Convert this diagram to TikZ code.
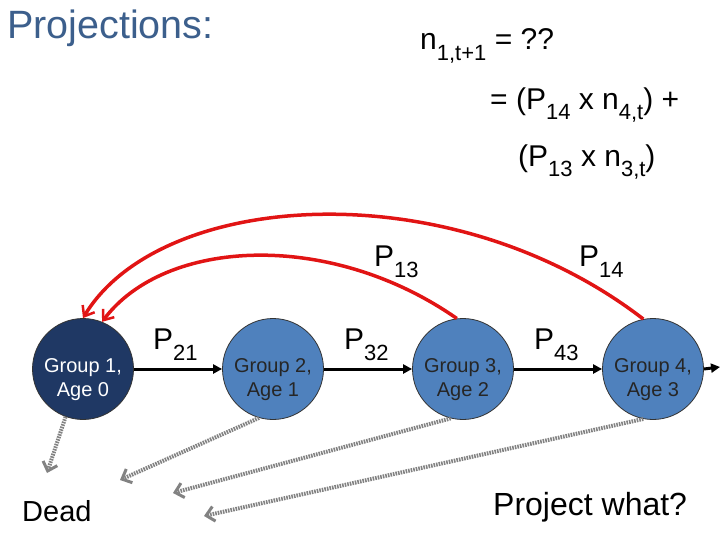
\documentclass[tikz,border=0pt]{standalone}
\usepackage{fontspec}
\setmainfont{Liberation Sans}
\usetikzlibrary{arrows.meta}
\definecolor{navy}{RGB}{31,56,100}
\definecolor{steel}{RGB}{79,129,189}
\definecolor{titleblue}{RGB}{60,95,140}
\definecolor{redarc}{RGB}{225,20,20}
\definecolor{deadgray}{RGB}{130,130,130}
\newcommand{\sbs}[1]{\raisebox{-0.36em}{\fontsize{22}{22}\selectfont #1}}
\tikzset{
  grp/.style={circle, draw=black!80, line width=0.8pt, minimum size=101pt, inner sep=0pt},
  grptxt/.style={font=\fontsize{20}{24}\selectfont, align=center},
  big/.style={font=\fontsize{30}{34}\selectfont, inner sep=0pt, anchor=west},
  flow/.style={line width=3pt, -{Triangle[length=9pt,width=9pt]}},
  fert/.style={redarc, line width=3.5pt, -{Straight Barb[length=9pt,width=14pt,line width=2.5pt]}},
  death/.style={deadgray, line width=4pt, dash pattern=on 1.6pt off 1pt, -{Straight Barb[length=8pt,width=15pt,line width=3pt]}}
}
\begin{document}
\begin{tikzpicture}[x=1pt,y=-1pt]
\useasboundingbox (0,0) rectangle (720,540);
% title
\node[font=\fontsize{39.5}{43}\selectfont, text=titleblue, anchor=west, inner sep=0pt] (title) at (7,28) {Projections:};
% equation
\node[big] (eq1) at (420,46) {n\sbs{1,t+1} = ??};
\node[big] (eq2) at (490,105) {= (P\sbs{14} x n\sbs{4,t}) +};
\node[big] (eq3) at (518,162) {(P\sbs{13} x n\sbs{3,t})};
% groups
\node[grp, fill=navy] (g1) at (83,369) {};
\node[grp, fill=steel] (g2) at (273,369) {};
\node[grp, fill=steel] (g3) at (463,369) {};
\node[grp, fill=steel] (g4) at (653,369) {};
\node[grptxt, text=white] (t1) at (83,380) {Group 1,\\Age 0};
\node[grptxt, text=black!85] (t2) at (273,380) {Group 2,\\Age 1};
\node[grptxt, text=black!85] (t3) at (463,380) {Group 3,\\Age 2};
\node[grptxt, text=black!85] (t4) at (653,380) {Group 4,\\Age 3};
% transitions
\coordinate (out) at (720,367);
\draw[flow] (g1.east) -- (g2.west);
\draw[flow] (g2.east) -- (g3.west);
\draw[flow] (g3.east) -- (g4.west);
\draw[flow] (g4.east) -- (out);
\node[big] (p21) at (153,345) {P\sbs{21}};
\node[big] (p32) at (344,345) {P\sbs{32}};
\node[big] (p43) at (534,345) {P\sbs{43}};
% fertility
\draw[fert] (g4.101) .. controls (450,170) and (160,190) .. (g1.90);
\draw[fert] (g3.97) .. controls (330,230) and (165,238) .. (g1.68);
\node[big] (p13) at (374,262) {P\sbs{13}};
\node[big] (p14) at (579,262) {P\sbs{14}};
% death
\coordinate (d1) at (47,473);
\coordinate (d2) at (120,480);
\coordinate (d3) at (173,493);
\coordinate (d4) at (204,516);
\draw[death] (g1.250) -- (d1);
\draw[death] (g2.254) -- (d2);
\draw[death] (g3.256) -- (d3);
\draw[death] (g4.259) -- (d4);
\node[font=\fontsize{29}{33}\selectfont, inner sep=0pt, anchor=west] (dead) at (22,511) {Dead};
\node[font=\fontsize{32}{36}\selectfont, inner sep=0pt, anchor=west] (pw) at (493,507) {Project what?};
\end{tikzpicture}
\end{document}
